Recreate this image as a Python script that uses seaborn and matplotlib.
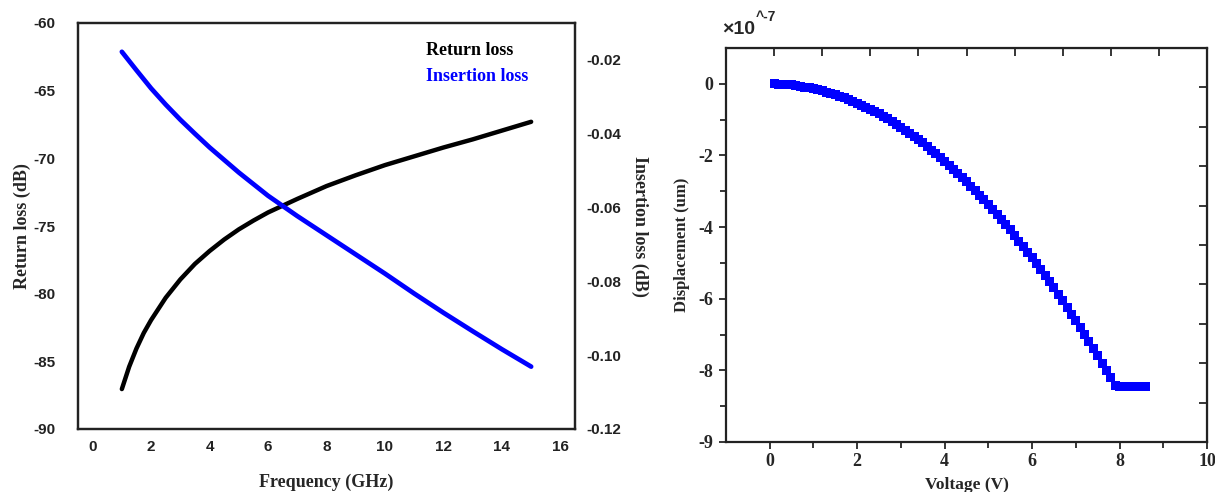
import numpy as np
import pandas as pd
import seaborn as sns
import matplotlib.pyplot as plt

sns.set_style('ticks')
plt.rcParams['font.family'] = ['Liberation Serif', 'DejaVu Sans']
plt.rcParams['axes.unicode_minus'] = False

# ---- data: left panel (frequency sweep) ----
freq_rl = [1, 1.25, 1.5, 1.75, 2, 2.5, 3, 3.5, 4, 4.5, 5, 5.5, 6, 7, 8, 9, 10,
           11, 12, 13, 14, 15]
return_loss = [-87.05, -85.4, -84.05, -82.9, -81.95, -80.3, -78.95, -77.8, -76.85,
               -76.0, -75.25, -74.6, -74.0, -73.0, -72.05, -71.25, -70.5,
               -69.85, -69.2, -68.6, -67.95, -67.3]

freq_il = [1, 1.5, 2, 2.5, 3, 3.5, 4, 5, 6, 7, 8, 9, 10, 11, 12, 13, 14, 15]
insertion_loss = [-0.0178, -0.0228, -0.0277, -0.0321, -0.0362, -0.0400, -0.0437,
                  -0.0505, -0.0568, -0.0623, -0.0675, -0.0727, -0.0779, -0.0833,
                  -0.0885, -0.0935, -0.0984, -0.1031]

# ---- data: right panel (displacement vs voltage, x1e-7) ----
voltage = [0.1, 0.2, 0.3, 0.4, 0.5, 0.6, 0.7, 0.8, 0.9, 1.0,
           1.1, 1.2, 1.3, 1.4, 1.5, 1.6, 1.7, 1.8, 1.9, 2.0,
           2.1, 2.2, 2.3, 2.4, 2.5, 2.6, 2.7, 2.8, 2.9, 3.0,
           3.1, 3.2, 3.3, 3.4, 3.5, 3.6, 3.7, 3.8, 3.9, 4.0,
           4.1, 4.2, 4.3, 4.4, 4.5, 4.6, 4.7, 4.8, 4.9, 5.0,
           5.1, 5.2, 5.3, 5.4, 5.5, 5.6, 5.7, 5.8, 5.9, 6.0,
           6.1, 6.2, 6.3, 6.4, 6.5, 6.6, 6.7, 6.8, 6.9, 7.0,
           7.1, 7.2, 7.3, 7.4, 7.5, 7.6, 7.7, 7.8, 7.9,
           8.0, 8.1, 8.2, 8.3, 8.4, 8.5, 8.6]
displacement = [0.00, -0.01, -0.01, -0.02, -0.03, -0.05, -0.07, -0.09, -0.11, -0.14,
                -0.16, -0.19, -0.23, -0.26, -0.30, -0.35, -0.39, -0.44, -0.49, -0.54,
                -0.60, -0.65, -0.71, -0.78, -0.84, -0.91, -0.98, -1.06, -1.14, -1.21,
                -1.30, -1.38, -1.47, -1.56, -1.65, -1.75, -1.85, -1.95, -2.05, -2.16,
                -2.27, -2.38, -2.50, -2.61, -2.73, -2.86, -2.98, -3.11, -3.24, -3.38,
                -3.51, -3.65, -3.79, -3.94, -4.08, -4.23, -4.39, -4.54, -4.70, -4.86,
                -5.02, -5.19, -5.36, -5.53, -5.70, -5.88, -6.06, -6.24, -6.43, -6.62,
                -6.81, -7.00, -7.19, -7.39, -7.59, -7.80, -8.00, -8.21, -8.43,
                -8.45, -8.45, -8.45, -8.45, -8.45, -8.45, -8.45]

left_yticks = [-90, -85, -80, -75, -70, -65, -60]
right_yticks = [-0.12, -0.10, -0.08, -0.06, -0.04, -0.02]
disp_ticks = [0, -2, -4, -6, -8, -10]
disp_labels = ['0', '-2', '-4', '-6', '-8', '-9']

fig = plt.figure(figsize=(12.15, 4.92), dpi=100)

# ==========================================
# Left panel: return loss / insertion loss
# ==========================================
ax1 = fig.add_axes([78 / 1215, 63 / 492, 497 / 1215, 406 / 492])
sns.lineplot(x=freq_rl, y=return_loss, color='black', linewidth=3.2, ax=ax1)
ax1.set_xlim(-0.5, 16.5)
ax1.set_ylim(-90, -60)
ax1.set_xticks(range(0, 17, 2))
ax1.set_yticks(left_yticks)
ax1.tick_params(length=0, labelsize=11)
ax1.tick_params(axis='y', pad=16)
ax1.tick_params(axis='x', pad=8)
for lab in ax1.get_xticklabels() + ax1.get_yticklabels():
    lab.set_family('Liberation Sans')
    lab.set_fontweight('bold')
    lab.set_color('#222222')
ax1.set_xlabel('Frequency (GHz)', fontsize=13, fontweight='bold', labelpad=14)
ax1.set_ylabel('Return loss (dB)', fontsize=13, fontweight='bold', labelpad=2)

ax1b = ax1.twinx()
sns.lineplot(x=freq_il, y=insertion_loss, color='#0000ff', linewidth=3.4, ax=ax1b)
ax1b.set_ylim(-0.12, -0.01)
ax1b.set_yticks(right_yticks)
ax1b.set_yticklabels(['%.2f' % v for v in right_yticks])
ax1b.tick_params(length=0, labelsize=11, pad=8)
for lab in ax1b.get_yticklabels():
    lab.set_family('Liberation Sans')
    lab.set_fontweight('bold')
    lab.set_color('#222222')
ax1b.set_ylabel('Insertion loss (dB)', fontsize=13, fontweight='bold',
                rotation=270, labelpad=20)
for ax in (ax1, ax1b):
    for sp in ax.spines.values():
        sp.set_linewidth(1.6)
        sp.set_color('#222222')
    for ln in ax.get_lines():
        ln.set_solid_joinstyle('round')
        ln.set_solid_capstyle('round')

ax1.text(0.70, 0.933, 'Return loss', transform=ax1.transAxes, fontsize=13,
         fontweight='bold', color='black', va='center')
ax1.text(0.70, 0.867, 'Insertion loss', transform=ax1.transAxes, fontsize=13,
         fontweight='bold', color='#0000ff', va='center')

# ==========================================
# Right panel: displacement vs voltage
# ==========================================
ax2 = fig.add_axes([726 / 1215, 50 / 492, 481 / 1215, 394 / 492])
sns.scatterplot(x=voltage, y=displacement, marker='s', s=42, color='#0000ff',
                edgecolor='none', linewidth=0, ax=ax2)
ax2.set_xlim(-1, 10)
ax2.set_ylim(-10, 1)
ax2.set_xticks(range(0, 11, 2))
ax2.set_xticks([1, 3, 5, 7, 9], minor=True)
ax2.set_yticks(disp_ticks)
ax2.set_yticklabels(disp_labels)
ax2.set_yticks([-1, -3, -5, -7, -9], minor=True)
ax2.tick_params(which='both', direction='out', width=1.3, length=5, labelsize=13)
ax2.tick_params(which='minor', length=4)
ax2.tick_params(axis='y', pad=4)
ax2.tick_params(axis='x', pad=3)
for lab in ax2.get_xticklabels() + ax2.get_yticklabels():
    lab.set_fontweight('bold')
for sp in ax2.spines.values():
    sp.set_linewidth(1.6)
    sp.set_color('#222222')

# mirrored inward ticks on top and right
top = ax2.secondary_xaxis('top', functions=(lambda x: (x + 1) * 10 / 11,
                                            lambda t: t * 11 / 10 - 1))
top.set_xticks(range(1, 10))
top.tick_params(direction='in', length=6, width=1.3, labeltop=False)
right = ax2.secondary_yaxis('right', functions=(lambda y: (y + 10) * 10 / 11,
                                                lambda r: r * 11 / 10 - 10))
right.set_yticks(range(1, 10))
right.tick_params(direction='in', length=6, width=1.3, labelright=False)

ax2.set_xlabel('Voltage (V)', fontsize=12.5, fontweight='bold', labelpad=5)
ax2.set_ylabel('Displacement (um)', fontsize=12, fontweight='bold', labelpad=6)

fig.text(722 / 1215, 1 - 30 / 492, '\u00d710', fontsize=14, fontweight='bold',
         family='Liberation Sans', va='center', ha='left')
fig.text(756 / 1215, 1 - 17 / 492, '^-7', fontsize=10, fontweight='bold',
         family='Liberation Sans', va='center', ha='left')

fig.savefig('out.png', dpi=100, facecolor='white')
